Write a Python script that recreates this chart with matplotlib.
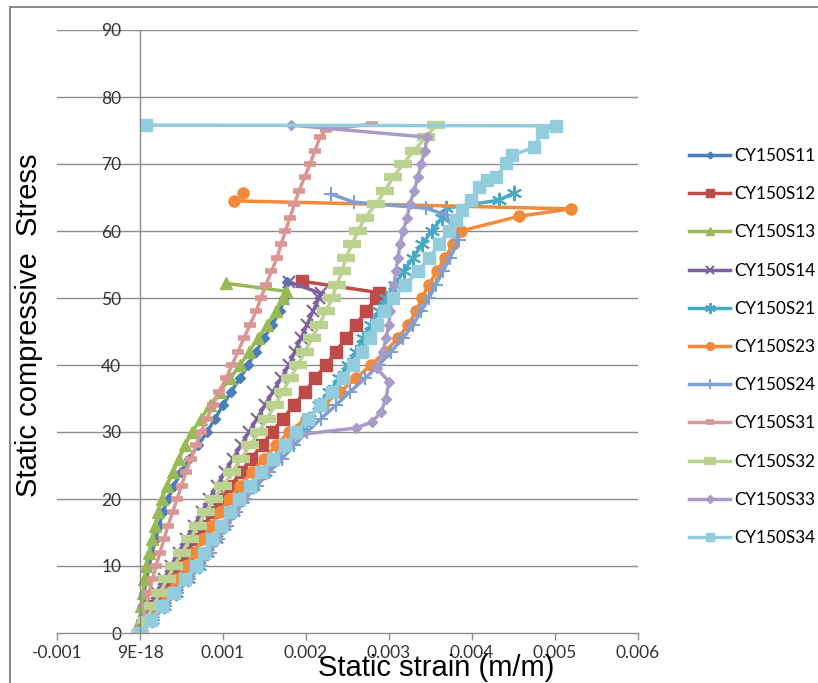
import matplotlib
matplotlib.use('Agg')
import matplotlib.pyplot as plt
from matplotlib.lines import Line2D
import numpy as np

plt.rcParams['font.family'] = ['Lato', 'DejaVu Sans']

# strain values are given in milli-strain (x 1e-3 m/m), stress in MPa
s11_stress = [0, 2, 4, 6, 8, 10, 12, 14, 16, 18, 20, 22, 24, 26, 28, 30, 32, 34, 36, 38, 40,
              42, 44, 46, 48, 50, 52.4]
s11_strain = [0, 0.012, 0.030, 0.048, 0.078, 0.108, 0.145, 0.187, 0.229, 0.277, 0.337, 0.410,
              0.494, 0.590, 0.699, 0.807, 0.904, 1.000, 1.096, 1.205, 1.301, 1.398, 1.494,
              1.590, 1.687, 1.735, 1.771]

s12_stress = [0, 2, 4, 6, 8, 10, 12, 14, 16, 18, 20, 22, 24, 26, 28, 30, 32, 34, 36, 38, 40,
              42, 44, 46, 48, 50, 50.8, 52.5]
s12_strain = [0, 0.084, 0.181, 0.277, 0.373, 0.470, 0.566, 0.663, 0.771, 0.867, 0.976, 1.096,
              1.217, 1.337, 1.470, 1.590, 1.723, 1.855, 1.988, 2.108, 2.241, 2.361, 2.482,
              2.602, 2.723, 2.843, 2.880, 1.952]

s13_stress = [0, 2, 4, 6, 8, 10, 12, 14, 16, 18, 20, 22, 24, 26, 28, 30, 32, 34, 36, 38, 40,
              42, 44, 46, 48, 50, 51, 52.2]
s13_strain = [0, 0.006, 0.018, 0.036, 0.054, 0.072, 0.108, 0.145, 0.181, 0.217, 0.265, 0.325,
              0.398, 0.470, 0.542, 0.627, 0.735, 0.843, 0.964, 1.084, 1.205, 1.313, 1.422,
              1.530, 1.639, 1.723, 1.759, 1.036]

s14_stress = [0, 2, 4, 6, 8, 10, 12, 14, 16, 18, 20, 22, 24, 26, 28, 30, 32, 34, 36, 38, 40,
              42, 44, 46, 48, 50, 50.7, 52.4]
s14_strain = [0, 0.060, 0.133, 0.205, 0.289, 0.373, 0.464, 0.554, 0.651, 0.741, 0.831, 0.928,
              1.024, 1.120, 1.217, 1.313, 1.410, 1.506, 1.602, 1.699, 1.795, 1.867, 1.940,
              2.012, 2.084, 2.157, 2.181, 1.795]

s21_stress = [0, 2, 4, 6, 8, 10, 12, 14, 16, 18, 20, 22, 24, 26, 28, 30, 32, 34, 36, 38, 40,
              42, 44, 46, 48, 50, 52, 54, 56, 58, 60, 62, 63.4, 64.6, 65.7]
s21_strain = [0, 0.145, 0.289, 0.434, 0.578, 0.711, 0.807, 0.916, 1.012, 1.120, 1.229, 1.361,
              1.506, 1.639, 1.783, 1.916, 2.036, 2.157, 2.277, 2.398, 2.506, 2.602, 2.687,
              2.783, 2.880, 2.964, 3.072, 3.181, 3.289, 3.398, 3.518, 3.639, 3.687, 4.325,
              4.506]

s23_stress = [0, 2, 4, 6, 8, 10, 12, 14, 16, 18, 20, 22, 24, 26, 28, 30, 32, 34, 36, 38, 40,
              42, 44, 46, 48, 50, 52, 54, 56, 58, 60, 62.2, 63.3, 64.5, 65.6]
s23_strain = [0, 0.108, 0.217, 0.325, 0.434, 0.542, 0.651, 0.753, 0.855, 0.964, 1.072, 1.205,
              1.349, 1.494, 1.639, 1.795, 2.000, 2.205, 2.410, 2.602, 2.783, 2.952, 3.108,
              3.229, 3.325, 3.398, 3.482, 3.578, 3.675, 3.771, 3.867, 4.566, 5.193, 1.133,
              1.241]

s24_stress = [0, 2, 4, 6, 8, 10, 12, 14, 16, 18, 20, 22, 24, 26, 28, 30, 32, 34, 36, 38, 40,
              42, 44, 46, 48, 50, 52, 54, 56, 58.7, 62.4, 63.4, 64.3, 65.5]
s24_strain = [0, 0.157, 0.301, 0.446, 0.590, 0.735, 0.843, 0.940, 1.048, 1.157, 1.265, 1.410,
              1.554, 1.711, 1.855, 2.012, 2.181, 2.361, 2.530, 2.711, 2.880, 3.024, 3.169,
              3.289, 3.386, 3.482, 3.566, 3.651, 3.735, 3.843, 3.687, 3.446, 2.578, 2.301]

s31_stress = [0, 2, 4, 6, 8, 10, 12, 14, 16, 18, 20, 22, 24, 26, 28, 30, 32, 34, 36, 38, 40,
              42, 44, 46, 48, 50, 52, 54, 56, 58, 60, 62, 64, 66, 68, 70, 72, 74, 75.1, 76]
s31_strain = [0, 0.036, 0.072, 0.108, 0.151, 0.193, 0.241, 0.289, 0.337, 0.392, 0.446, 0.500,
              0.554, 0.614, 0.675, 0.735, 0.807, 0.880, 0.952, 1.036, 1.108, 1.181, 1.253,
              1.325, 1.398, 1.458, 1.518, 1.584, 1.651, 1.699, 1.753, 1.807, 1.861, 1.916,
              1.982, 2.048, 2.108, 2.169, 2.241, 2.795]

s32_stress = [0, 2, 4, 6, 8, 10, 12, 14, 16, 18, 20, 22, 24, 26, 28, 30, 32, 34, 36, 38, 40,
              42, 44, 46, 48, 50, 52, 54, 56, 58, 60, 62, 64, 66, 68, 70, 72, 74, 75.8]
s32_strain = [0, 0.072, 0.157, 0.241, 0.325, 0.410, 0.506, 0.602, 0.699, 0.795, 0.892, 1.000,
              1.108, 1.217, 1.325, 1.434, 1.530, 1.627, 1.723, 1.807, 1.904, 1.988, 2.072,
              2.157, 2.241, 2.313, 2.373, 2.434, 2.482, 2.554, 2.627, 2.711, 2.843, 2.952,
              3.048, 3.169, 3.301, 3.446, 3.566]

s33_stress = [0, 2, 4, 6, 8, 10, 12, 14, 16, 18, 20, 22, 24, 26, 28, 29.6, 30.6, 31.5, 33, 35,
              37.5, 39.5, 42, 44, 46, 48, 50, 52, 54, 56, 58, 60, 62, 64, 66, 68, 70, 72, 74,
              75.8]
s33_strain = [0, 0.145, 0.289, 0.434, 0.578, 0.711, 0.819, 0.928, 1.036, 1.145, 1.253, 1.373,
              1.506, 1.639, 1.783, 1.916, 2.602, 2.795, 2.904, 2.964, 3.000, 2.855, 2.928,
              2.964, 3.000, 3.012, 3.036, 3.060, 3.084, 3.108, 3.133, 3.169, 3.217, 3.253,
              3.301, 3.349, 3.386, 3.434, 3.458, 1.819]

s34_stress = [0, 2, 4, 6, 8, 10, 12, 14, 16, 18, 20, 22, 24, 26, 28, 30, 32, 34, 36, 38, 40,
              42, 44, 46, 48, 50, 52, 54, 56, 58, 60, 61.6, 63.1, 64.6, 66.6, 67.6, 68.1, 70.1,
              71.3, 72.5, 74.8, 75.7, 75.8]
s34_strain = [0, 0.133, 0.265, 0.410, 0.542, 0.675, 0.771, 0.867, 0.976, 1.084, 1.193, 1.325,
              1.458, 1.602, 1.747, 1.880, 2.024, 2.169, 2.313, 2.446, 2.566, 2.675, 2.771,
              2.855, 2.940, 3.048, 3.193, 3.349, 3.482, 3.602, 3.723, 3.807, 3.880, 3.988,
              4.084, 4.181, 4.289, 4.410, 4.482, 4.747, 4.843, 5.012, 0.072]

x_ticks = [-0.001, 0, 0.001, 0.002, 0.003, 0.004, 0.005, 0.006]
x_ticklabels = ['-0.001', '9E-18', '0.001', '0.002', '0.003', '0.004', '0.005', '0.006']
y_ticks = [0, 10, 20, 30, 40, 50, 60, 70, 80, 90]

series = [
    ('CY150S11', s11_strain, s11_stress, '#4A7EBB', 'D', 5, 1.0),
    ('CY150S12', s12_strain, s12_stress, '#BE4B48', 's', 8.5, 1.0),
    ('CY150S13', s13_strain, s13_stress, '#98B954', '^', 8.5, 1.0),
    ('CY150S14', s14_strain, s14_stress, '#7D60A0', 'x', 8.5, 1.5),
    ('CY150S21', s21_strain, s21_stress, '#46AAC5', (6, 2, 0), 11, 1.5),
    ('CY150S23', s23_strain, s23_stress, '#F28A3C', 'o', 8, 1.0),
    ('CY150S24', s24_strain, s24_stress, '#7F9FD3', '+', 10, 1.5),
    ('CY150S31', s31_strain, s31_stress, '#D99694', '_', 9, 4),
    ('CY150S32', s32_strain, s32_stress, '#BBD291', '_', 13, 6),
    ('CY150S33', s33_strain, s33_stress, '#A99BC8', 'D', 5.5, 1.0),
    ('CY150S34', s34_strain, s34_stress, '#93CDDD', 's', 9, 1.0),
]

fig = plt.figure(figsize=(8.18, 6.83), dpi=100)
ax = fig.add_axes([57 / 818, 1 - 633 / 683, 581 / 818, 603 / 683])

grid_c = '#8C8C8C'
for yv in y_ticks[1:]:
    ax.axhline(yv, color=grid_c, linewidth=1.0, zorder=0)

for name, sx, sy, col, mk, ms, mew in series:
    ax.plot(np.array(sx) * 1e-3, sy, color=col, linewidth=2.5, marker=mk, markersize=ms,
            markeredgewidth=mew, markerfacecolor=col, markeredgecolor=col, label=name)

ax.set_xlim(-0.001, 0.006)
ax.set_ylim(0, 90)
ax.set_xticks(x_ticks)
ax.set_xticklabels(x_ticklabels)
ax.set_yticks(y_ticks)

for sp in ['top', 'right']:
    ax.spines[sp].set_visible(False)
ax.spines['left'].set_position(('data', 0))
ax.spines['left'].set_color(grid_c)
ax.spines['bottom'].set_color(grid_c)
ax.spines['left'].set_linewidth(1.0)
ax.spines['bottom'].set_linewidth(1.0)
ax.tick_params(axis='x', direction='out', length=5, width=1, color=grid_c,
               labelsize=12.5, pad=4, labelcolor='#333333')
ax.tick_params(axis='y', length=0, labelsize=12.5, pad=13.5, labelcolor='#333333')

title_font = ['Liberation Sans Narrow', 'Liberation Sans', 'DejaVu Sans']
ax.set_xlabel('Static strain (m/m)', fontsize=21, family=title_font)
ax.xaxis.label.set_va('center')
ax.xaxis.set_label_coords((436 - 57) / 581, (633 - 668) / 603)
ax.set_ylabel('Static compressive  Stress', fontsize=21, family=title_font)
ax.yaxis.label.set_va('center')
ax.yaxis.set_label_coords((29 - 57) / 581, (633 - 325) / 603)

leg = fig.legend(loc='upper left', bbox_to_anchor=(689 / 818, 1 - 148 / 683),
                 frameon=False, fontsize=12.3, handlelength=2.4, handletextpad=0.25,
                 labelspacing=1.30, borderpad=0, borderaxespad=0)
for h in leg.legend_handles:
    h.set_markersize(h.get_markersize() * 0.7)

# outer chart frame (only top and left visible in the crop)
fig.add_artist(Line2D([10 / 818, 1.0], [1 - 7 / 683, 1 - 7 / 683],
                      transform=fig.transFigure, color='#8C8C8C', linewidth=1.5))
fig.add_artist(Line2D([10 / 818, 10 / 818], [0, 1 - 7 / 683],
                      transform=fig.transFigure, color='#8C8C8C', linewidth=1.5))

fig.savefig('out.png', dpi=100)
plt.close(fig)
